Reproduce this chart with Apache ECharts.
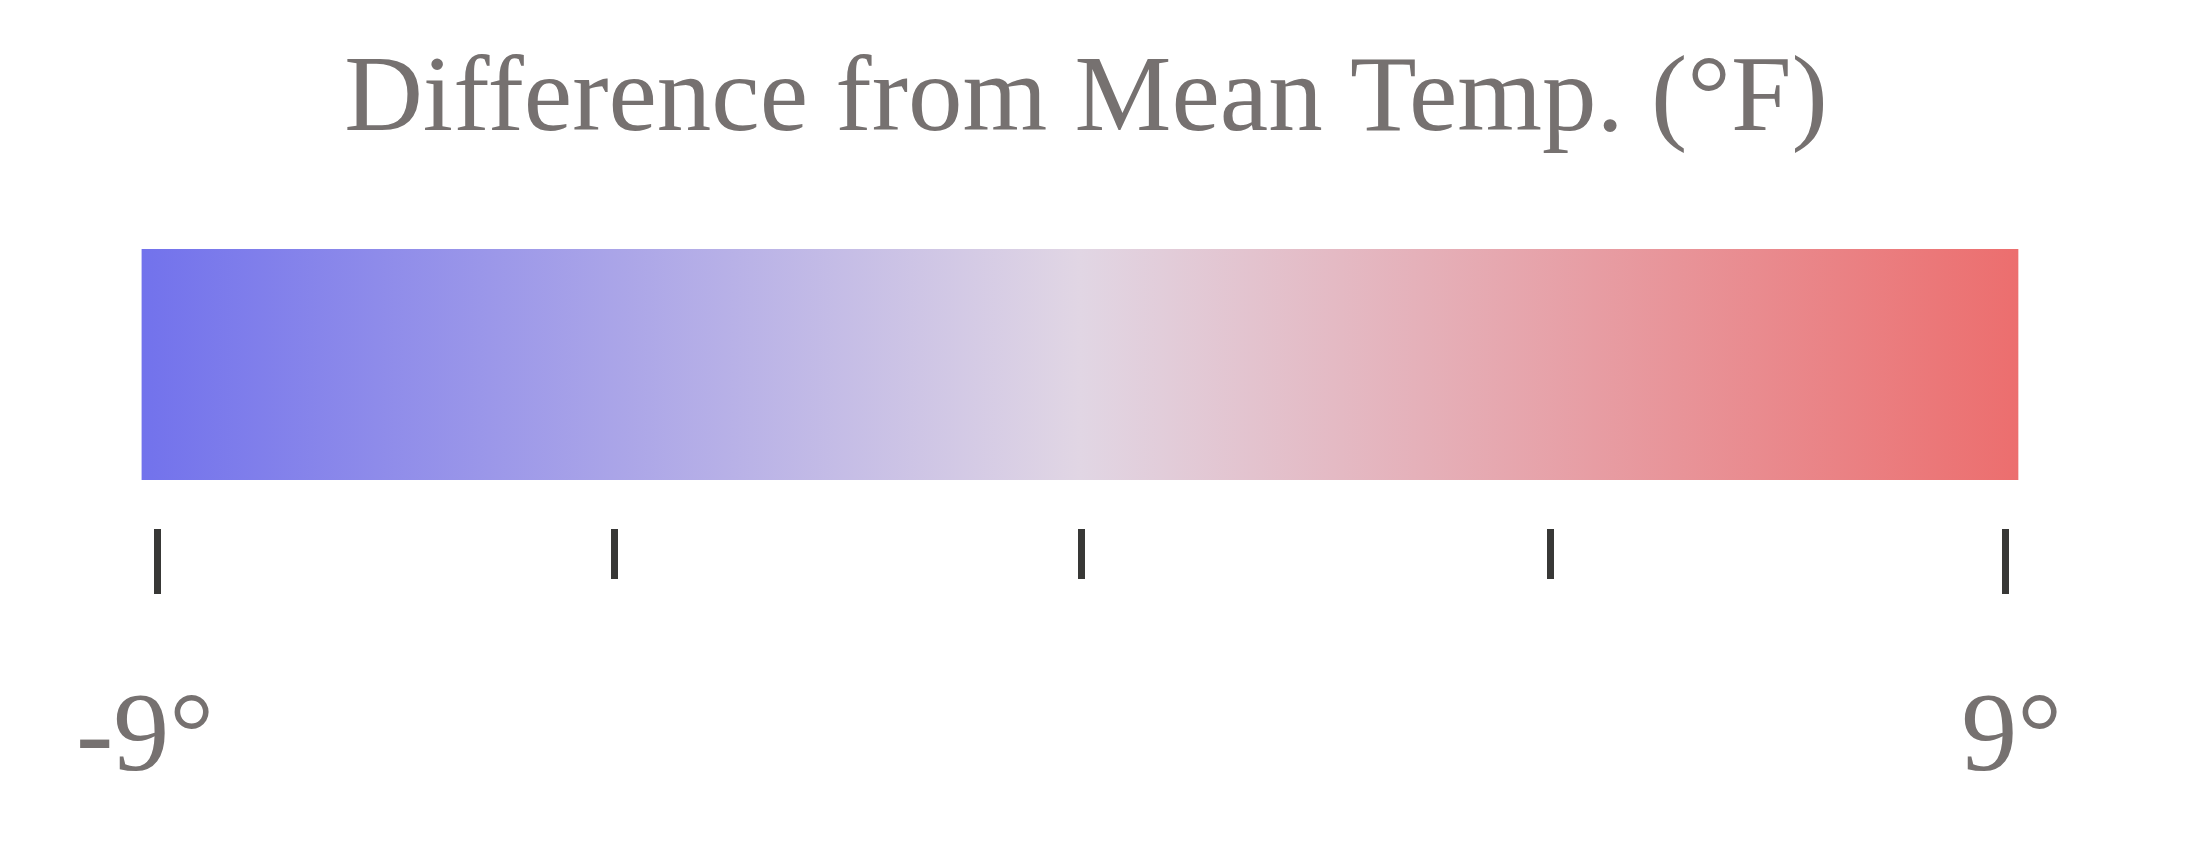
<!DOCTYPE html>
<html>
<head>
<meta charset="utf-8">
<script src="https://cdn.jsdelivr.net/npm/echarts@6/dist/echarts.min.js"></script>
<style>
html,body{margin:0;padding:0;background:#ffffff;}
#c{width:2204px;height:858px;}
</style>
</head>
<body>
<div id="c"></div>
<script>
// ---- data ----
const titleText = 'Difference from Mean Temp. (°F)';
const scaleMin = -9;
const scaleMax = 9;
const tickValues = [-9, -4.55, 0, 4.57, 9];
const labelValues = [-9, 9];
const tickLabels = ['-9°', '9°'];
const barExtent = [-9.15, 9.13];
const gradientColors = ['#7272EC', '#E1D6E4', '#EC6E6E'];

// ---- styles ----
const textColor = '#767170';
const tickColor = '#383836';
const fontFamily = '"Liberation Serif", "DejaVu Serif", serif';

const chart = echarts.init(document.getElementById('c'), null, {renderer: 'canvas'});

const gridBox = {left: 157, width: 1848, top: 249, bottom: 329};

const option = {
  animation: false,
  backgroundColor: '#ffffff',
  title: {
    text: titleText,
    left: 1081,
    top: 42,
    textAlign: 'center',
    textStyle: {
      fontFamily: fontFamily,
      fontSize: 109,
      fontWeight: 'normal',
      color: textColor,
      lineHeight: 109
    }
  },
  grid: [
    Object.assign({}, gridBox),
    Object.assign({}, gridBox)
  ],
  xAxis: [
    {
      gridIndex: 0, type: 'value', min: scaleMin, max: scaleMax,
      axisLine: {show: false},
      axisTick: {show: true, length: 50, customValues: tickValues, lineStyle: {width: 7, color: tickColor}},
      axisLabel: {show: false},
      splitLine: {show: false}
    },
    {
      gridIndex: 1, type: 'value', min: scaleMin, max: scaleMax,
      axisLine: {show: false},
      axisTick: {show: true, length: 65, customValues: labelValues, lineStyle: {width: 7, color: tickColor}},
      axisLabel: {
        show: true,
        customValues: labelValues,
        margin: 156,
        align: 'right',
        padding: [0, -57, 0, 0],
        fontFamily: fontFamily,
        fontSize: 112,
        lineHeight: 112,
        color: textColor,
        formatter: function (v) {
          const i = labelValues.indexOf(v);
          return i >= 0 ? tickLabels[i] : '';
        }
      },
      splitLine: {show: false}
    }
  ],
  yAxis: [
    {gridIndex: 0, type: 'value', min: 0, max: 1, show: false},
    {gridIndex: 1, type: 'value', min: 0, max: 1, show: false}
  ],
  series: [
    {
      type: 'custom',
      xAxisIndex: 0,
      yAxisIndex: 0,
      clip: false,
      encode: {x: [0, 1]},
      data: [[barExtent[0], barExtent[1]]],
      renderItem: function (params, api) {
        const cs = params.coordSys;
        const x0 = api.coord([api.value(0), 0])[0];
        const x1 = api.coord([api.value(1), 0])[0];
        const stops = gradientColors.map(function (c, i) {
          return {offset: i / (gradientColors.length - 1), color: c};
        });
        return {
          type: 'rect',
          shape: {x: x0, y: cs.y, width: x1 - x0, height: cs.height - 49},
          style: {fill: new echarts.graphic.LinearGradient(0, 0, 1, 0, stops)}
        };
      }
    }
  ]
};

chart.setOption(option);
</script>
</body>
</html>
